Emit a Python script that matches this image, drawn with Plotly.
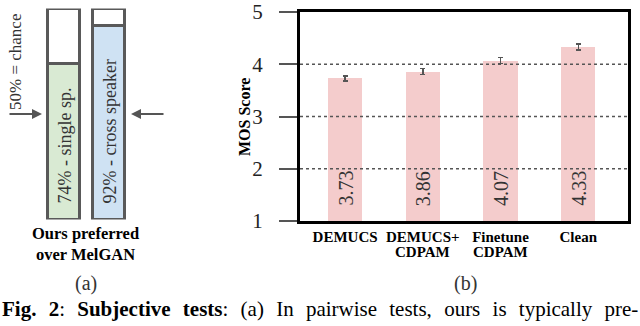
import plotly.graph_objects as go

# panel (a): pairwise preference vs MelGAN
pref_labels = ["74% - single sp.", "92% - cross speaker"]
pref_values = [74, 92]
pref_colors = ["#d9ead3", "#cfe2f3"]

# panel (b): MOS scores
mos_methods = ["DEMUCS", "DEMUCS+<br>CDPAM", "Finetune<br>CDPAM", "Clean"]
mos_scores = [3.73, 3.86, 4.07, 4.33]
mos_err = [0.05, 0.06, 0.06, 0.06]
mos_ticks = [1, 2, 3, 4, 5]
grid_vals = [2, 3, 4]

caption_words = ["<b>Fig.", "2</b>:", "<b>Subjective", "tests</b>:", "(a)", "In",
                 "pairwise", "tests,", "ours", "is", "typically", "pre-"]

SERIF = "Liberation Serif"
W, H = 640, 326

def px_x(p):
    return p / W

def px_y(p):
    return (H - p) / H

fig = go.Figure()

# (a) stacked outlined bars
fig.add_trace(go.Bar(
    x=[0, 1], y=pref_values, width=0.73,
    marker=dict(color=pref_colors, line=dict(color="#595959", width=3)),
    xaxis="x2", yaxis="y2", showlegend=False, hoverinfo="skip"))
fig.add_trace(go.Bar(
    x=[0, 1], y=[100 - v for v in pref_values], width=0.73,
    marker=dict(color="white", line=dict(color="#595959", width=3)),
    xaxis="x2", yaxis="y2", showlegend=False, hoverinfo="skip"))

# (b) MOS bars
fig.add_trace(go.Bar(
    x=list(range(len(mos_scores))), y=[s - 1 for s in mos_scores], base=1, width=0.44,
    marker=dict(color="#f4cccc", line=dict(width=0)),
    error_y=dict(type="data", array=mos_err, color="#555555", thickness=1.5, width=2.5),
    xaxis="x", yaxis="y", showlegend=False))

ann = []
for i, (lab, v) in enumerate(zip(pref_labels, pref_values)):
    ann.append(dict(x=i, y=0, xref="x2", yref="y2", text=lab, showarrow=False,
                    textangle=-90, xanchor="center", yanchor="bottom", yshift=14,
                    font=dict(family=SERIF, size=18, color="#333333")))
for i, s in enumerate(mos_scores):
    ann.append(dict(x=i, y=1, xref="x", yref="y", text=f"{s:.2f}", showarrow=False,
                    textangle=-90, xanchor="center", yanchor="bottom", yshift=13,
                    font=dict(family=SERIF, size=20, color="#333333")))
# second line of the two-line method names (tighter leading than plotly's ticks)
for i, m in enumerate(mos_methods):
    parts = m.split("<br>")
    if len(parts) > 1:
        ann.append(dict(x=i, y=px_y(252), xref="x", yref="paper", text=f"<b>{parts[1]}</b>",
                        showarrow=False, xanchor="center", yanchor="middle",
                        font=dict(family=SERIF, size=15, color="black")))

# arrows marking 50% chance
ann.append(dict(x=px_x(42), y=50, xref="paper", yref="y2", text="", showarrow=True,
                ax=-34, ay=0, arrowhead=2, arrowsize=1, arrowwidth=2, arrowcolor="#555555"))
ann.append(dict(x=px_x(131), y=50, xref="paper", yref="y2", text="", showarrow=True,
                ax=34, ay=0, arrowhead=2, arrowsize=1, arrowwidth=2, arrowcolor="#555555"))

def label(x, y, text, size, color="#333333", angle=0, anchor="center"):
    ann.append(dict(x=px_x(x), y=px_y(y), xref="paper", yref="paper", text=text,
                    showarrow=False, textangle=angle, xanchor=anchor, yanchor="middle",
                    font=dict(family=SERIF, size=size, color=color)))

label(15, 62, "50% = chance", 17, angle=-90)
label(85, 244, "<b>Ours preferred<br>over MelGAN</b>", 16.5, color="black")
label(244, 117, "<b>MOS Score</b>", 16, color="black", angle=-90)
label(86, 283, "(a)", 20)
label(465, 283, "(b)", 20)
# justified caption: widen the word gaps
label(0, 309, "\u2002\u200a".join(caption_words), 21, color="black", anchor="left")

shapes = [dict(type="line", xref="x domain", yref="y", x0=0, x1=1, y0=g, y1=g,
               line=dict(color="#555555", width=1.5, dash="dot"), layer="above")
          for g in grid_vals]

fig.update_layout(
    width=W, height=H, margin=dict(l=0, r=0, t=0, b=0),
    paper_bgcolor="white", plot_bgcolor="white",
    barmode="stack", bargap=0,
    font=dict(family=SERIF, color="#222222"),
    annotations=ann, shapes=shapes,
    xaxis=dict(domain=[px_x(300), px_x(628)], range=[-0.58, 3.64], anchor="y",
               tickvals=list(range(len(mos_methods))),
               ticktext=[f"<b>{m.split('<br>')[0]}</b>" for m in mos_methods],
               tickfont=dict(family=SERIF, size=15, color="black"),
               ticks="", automargin=False,
               showline=True, mirror=True, linewidth=3, linecolor="black",
               showgrid=False, zeroline=False),
    yaxis=dict(domain=[px_y(221), px_y(12)], range=[1, 5], anchor="x",
               tickvals=mos_ticks, ticks="outside", ticklen=18, tickwidth=2, tickcolor="#555555",
               ticklabelstandoff=12,
               tickfont=dict(family=SERIF, size=21, color="#222222"),
               showline=True, mirror=True, linewidth=3, linecolor="black",
               showgrid=False, zeroline=False, automargin=False),
    xaxis2=dict(domain=[px_x(37), px_x(136)], range=[-0.6, 1.6], anchor="y2",
                visible=False, automargin=False),
    yaxis2=dict(domain=[px_y(219.5), px_y(8.5)], range=[0, 100], anchor="x2",
                visible=False, automargin=False),
)

fig.write_html("out.html", config={"displayModeBar": False},
               post_script="document.body.style.margin='0';")
